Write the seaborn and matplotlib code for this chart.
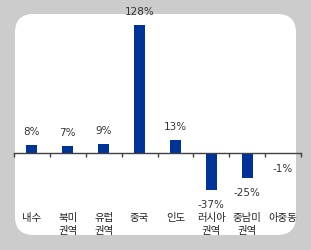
import numpy as np
import pandas as pd
import seaborn as sns
import matplotlib.pyplot as plt
from matplotlib.patches import FancyBboxPatch

# 지역별 증감률 (%)
regions = ['내수', '북미\n권역', '유럽\n권역', '중국', '인도', '러시아\n권역', '중남미\n권역', '아중동']
growth = [8, 7, 9, 128, 13, -37, -25, -1]
value_labels = ['8%', '7%', '9%', '128%', '13%', '-37%', '-25%', '-1%']

df = pd.DataFrame({'region': regions, 'growth': growth})

sns.set_style('white')
plt.rcParams['font.family'] = ['Noto Sans CJK KR', 'DejaVu Sans']

fig = plt.figure(figsize=(3.11, 2.51), dpi=100)
fig.patch.set_facecolor('#cccccc')

# 흰색 둥근 배경
W, H = 311, 251
box = FancyBboxPatch((15 / W, (H - 236) / H), 281 / W, 221 / H,
                     boxstyle='round,pad=0,rounding_size=0.06',
                     transform=fig.transFigure, facecolor='white',
                     edgecolor='none', zorder=-10,
                     mutation_aspect=W / H)
fig.patches.append(box)

ax = fig.add_axes([14 / W, (H - 204) / H, 287 / W, 190 / H])
ax.set_zorder(5)
ax.patch.set_alpha(0)

sns.barplot(data=df, x='region', y='growth', color='#003399',
            width=0.31, saturation=1, linewidth=0, ax=ax)

ax.set_xlim(-0.5, len(regions) - 0.5)
ax.set_ylim(-50, 140)

for s in ['top', 'right', 'left']:
    ax.spines[s].set_visible(False)
ax.spines['bottom'].set_position(('data', 0))
ax.spines['bottom'].set_color('#404040')
ax.spines['bottom'].set_linewidth(1)
ax.set_xticks(np.arange(-0.5, len(regions), 1))
ax.set_xticklabels([])
ax.tick_params(axis='x', direction='out', length=3, width=1, color='#404040', bottom=True)
ax.set_yticks([])
ax.set_xlabel('')
ax.set_ylabel('')

# 값 라벨
for i, (v, lab) in enumerate(zip(growth, value_labels)):
    off = 10 if v >= 0 else -10
    ax.annotate(lab, (i, v), xytext=(0, off), textcoords='offset points',
                ha='center', va='center', fontsize=7.5, color='#333333',
                family=['DejaVu Sans'], annotation_clip=False)

# 범주 라벨
for i, r in enumerate(regions):
    ax.text(i, -0.05, r, transform=ax.get_xaxis_transform(), ha='center', va='top',
            fontsize=7.5, color='#222222', linespacing=1.35, clip_on=False)

fig.savefig('out.png', dpi=100, facecolor=fig.get_facecolor())
